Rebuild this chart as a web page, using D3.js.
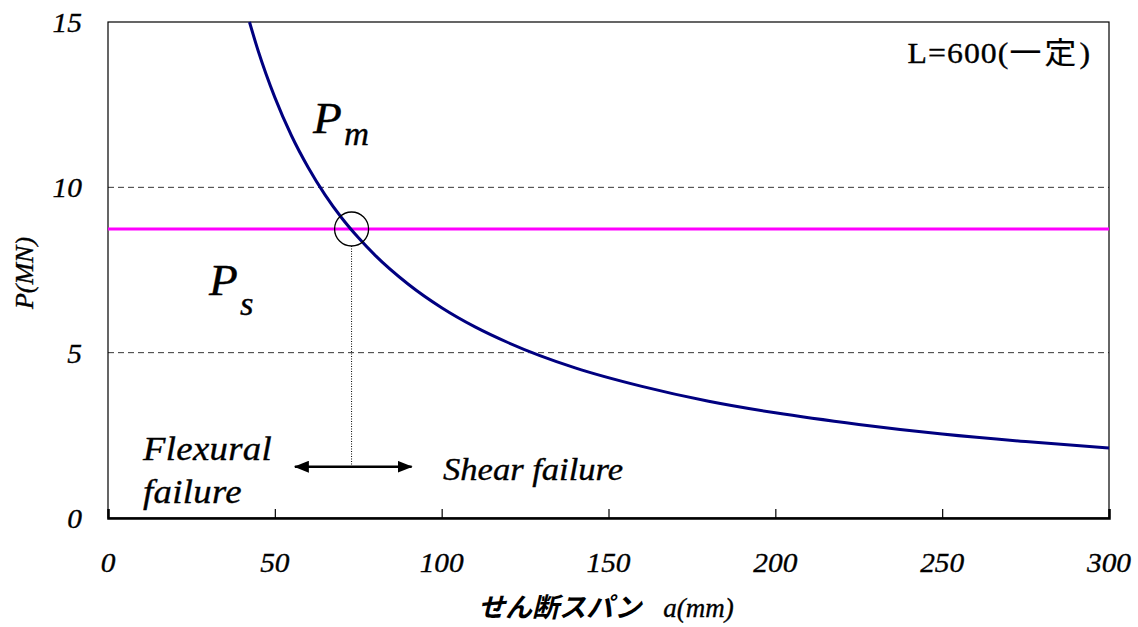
<!DOCTYPE html>
<html>
<head>
<meta charset="utf-8">
<script src="https://cdn.jsdelivr.net/npm/d3@7"></script>
<style>
  body { margin: 0; background: #fff; }
</style>
</head>
<body>
<script>
// P_m curve (a in mm, P in MN)
const spanA = [42.4, 45, 50, 55, 60, 65, 70, 75, 80, 90, 100, 110, 120, 140, 160, 180, 200, 225, 250, 275, 300];
const loadPm = [15.0, 14.13, 12.72, 11.56, 10.6, 9.78, 9.08, 8.48, 7.95, 7.07, 6.36, 5.78, 5.3, 4.54, 3.98, 3.53, 3.18, 2.83, 2.54, 2.31, 2.12];
const loadPs = 8.74;          // horizontal shear capacity
const crossA = 73;            // intersection span
const xTicks = [0, 50, 100, 150, 200, 250, 300];
const yTicks = [0, 5, 10, 15];
const gridY = [5, 10];
const arrowA = [56, 91];
const arrowP = 1.55;

const w = 1138, h = 627;
const padL = 108, padR = 1109, padT = 22, padB = 518;
const serif = "'Liberation Serif'";
const cjk = "'Noto Sans CJK JP'";

const svg = d3.select("body").append("svg")
   .attr("width", w).attr("height", h)
   .attr("font-family", serif);

const xScale = d3.scaleLinear().domain([0, 300]).range([padL, padR]);
const yScale = d3.scaleLinear().domain([0, 15]).range([padB, padT]);

// dashed gridlines
svg.selectAll("line.grid")
   .data(gridY)
   .enter()
   .append("line")
   .attr("class", "grid")
   .attr("x1", padL).attr("x2", padR)
   .attr("y1", d => yScale(d)).attr("y2", d => yScale(d))
   .attr("stroke", "#000").attr("stroke-width", 0.8)
   .attr("stroke-dasharray", "6,4");

// frame
svg.append("rect")
   .attr("x", padL).attr("y", padT)
   .attr("width", padR - padL).attr("height", padB - padT)
   .attr("fill", "none").attr("stroke", "#000").attr("stroke-width", 1.2);

// x axis, ticks pointing inside
const xAxis = d3.axisBottom(xScale).tickValues(xTicks).tickSize(-9).tickFormat("");
svg.append("g")
   .attr("transform", "translate(0," + padB + ")")
   .call(xAxis)
   .call(g => g.select(".domain").attr("stroke-width", 2.5))
   .call(g => g.selectAll(".tick line").attr("stroke-width", 1.2));

// text helper: slight horizontal stretch and a touch of stroke for the heavier look
function txt(x, y, size, str, italic, sx) {
   sx = sx || 1;
   return svg.append("g")
      .attr("transform", "translate(" + x + "," + y + ") scale(" + sx + ",1)")
      .append("text")
      .attr("font-family", serif)
      .attr("font-size", size)
      .attr("font-style", italic ? "italic" : "normal")
      .attr("stroke", "#000").attr("stroke-width", 0.35)
      .text(str);
}

xTicks.forEach(d => {
   txt(xScale(d), 572, 28, d, true, 1.05).attr("text-anchor", "middle");
});
yTicks.forEach(d => {
   txt(82, yScale(d) + 10, 28, d, true, 1.05).attr("text-anchor", "end");
});

// P_s line
svg.append("line")
   .attr("x1", padL).attr("x2", padR)
   .attr("y1", yScale(loadPs)).attr("y2", yScale(loadPs))
   .attr("stroke", "#ff00ff").attr("stroke-width", 3);

// P_m curve
const line = d3.line()
   .x((d, i) => xScale(spanA[i]))
   .y(d => yScale(d))
   .curve(d3.curveMonotoneX);

svg.append("path")
   .attr("d", line(loadPm))
   .attr("fill", "none")
   .attr("stroke", "#000080")
   .attr("stroke-width", 3);

// intersection marker
svg.append("circle")
   .attr("cx", xScale(crossA)).attr("cy", yScale(loadPs))
   .attr("r", 17)
   .attr("fill", "none").attr("stroke", "#000").attr("stroke-width", 1.3);

svg.append("line")
   .attr("x1", xScale(crossA)).attr("x2", xScale(crossA))
   .attr("y1", yScale(loadPs) + 17).attr("y2", yScale(arrowP))
   .attr("stroke", "#000").attr("stroke-width", 1)
   .attr("stroke-dasharray", "1,1.5");

// double arrow
svg.append("defs").append("marker")
   .attr("id", "head")
   .attr("viewBox", "0 0 15 12")
   .attr("refX", 14).attr("refY", 6)
   .attr("markerWidth", 15).attr("markerHeight", 12)
   .attr("markerUnits", "userSpaceOnUse")
   .attr("orient", "auto-start-reverse")
   .append("path").attr("d", "M0,0L15,6L0,12z").attr("fill", "#000");

svg.append("line")
   .attr("x1", xScale(arrowA[0])).attr("x2", xScale(arrowA[1]))
   .attr("y1", yScale(arrowP)).attr("y2", yScale(arrowP))
   .attr("stroke", "#000").attr("stroke-width", 2.5)
   .attr("marker-start", "url(#head)")
   .attr("marker-end", "url(#head)");

// P labels with subscripts
function pLabel(x, y, sub, dy) {
   const t = txt(x, y, 45, null, true, 1.05);
   t.append("tspan").text("P");
   t.append("tspan").attr("font-size", 33).attr("dx", 2).attr("dy", dy).text(sub);
}
pLabel(313, 133, "m", 12);
pLabel(209, 295, "s", 20);

txt(143, 460, 34, "Flexural", true, 1.08).attr("letter-spacing", 0.3);
txt(143, 503, 34, "failure", true, 1.08).attr("letter-spacing", 0.3);
txt(443, 480, 32, "Shear failure", true, 1.08);

const lt = txt(1090, 63, 30, null, false, 1.06)
   .attr("text-anchor", "end");
lt.append("tspan").attr("letter-spacing", 1).text("L=600(");
lt.append("tspan").attr("font-family", cjk).attr("font-size", 30)
   .attr("stroke-width", 0.2).attr("letter-spacing", 3).text("一定");
lt.append("tspan").text(")");

// axis titles
txt(0, 0, 26, "P(MN)", true)
   .attr("transform", "translate(33,273) rotate(-90)")
   .attr("text-anchor", "middle");

const xt = txt(478, 617, 27, null, true);
xt.append("tspan")
   .attr("font-family", cjk)
   .attr("font-weight", 700)
   .attr("stroke-width", 0)
   .text("せん断スパン");
xt.append("tspan")
   .attr("dx", 22)
   .text("a(mm)");
</script>
</body>
</html>
